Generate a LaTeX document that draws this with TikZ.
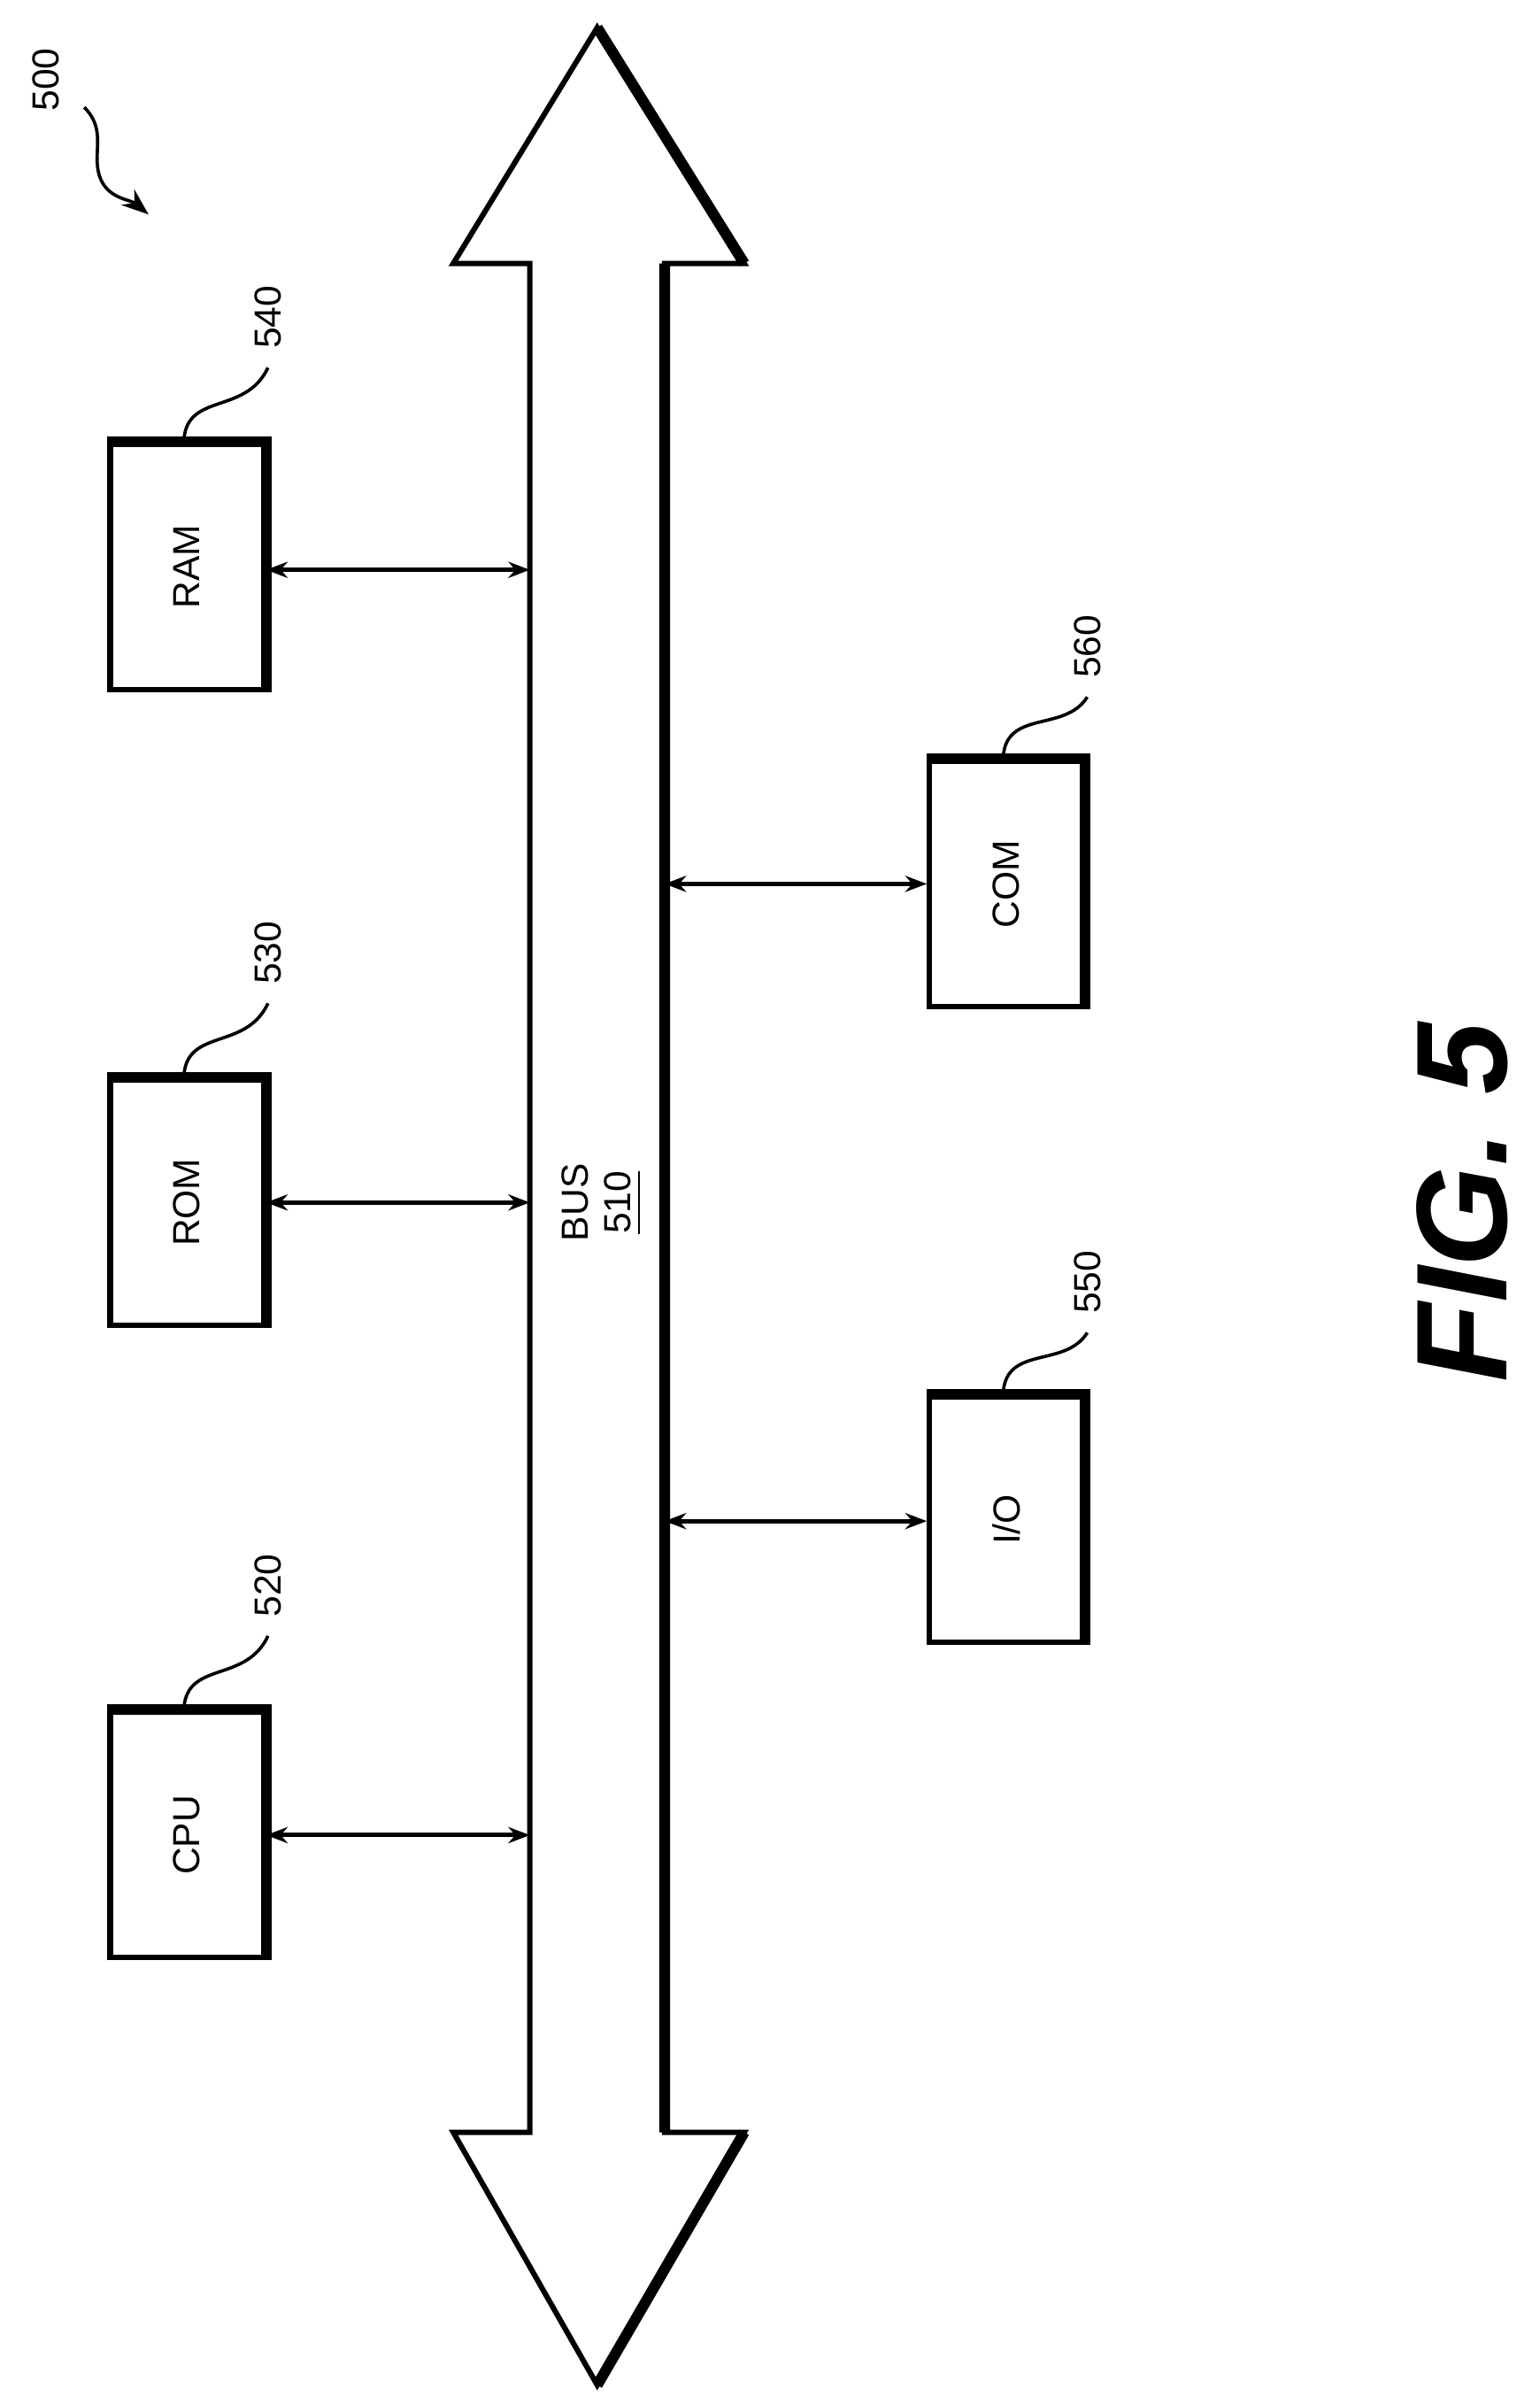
\documentclass[tikz,border=0pt]{standalone}
\usepackage{fontspec}
\setmainfont{Liberation Sans}
\usetikzlibrary{arrows.meta,decorations.pathmorphing}
\tikzset{
  blk/.style={draw, line width=1pt, minimum width=1.6cm, minimum height=1cm, rotate=90, font=\fontsize{7}{8}\selectfont},
  lnk/.style={{Stealth[length=4pt]}-{Stealth[length=4pt]}, line width=0.8pt},
  lead/.style={line width=0.6pt},
  ref/.style={rotate=90, font=\fontsize{7}{8}\selectfont, anchor=west}
}
\begin{document}
\begin{tikzpicture}[x=0.01cm,y=-0.01cm]
\useasboundingbox (0,0) rectangle (1000,1572);
% bus
\draw[line width=1pt] (390,18) -- (486,172) -- (434,172) -- (434,1392) -- (486,1392)
  -- (390,1557) -- (296,1392) -- (346,1392) -- (346,172) -- (296,172) -- cycle;
\draw[line width=2pt] (390,18) -- (486,172) (434,172) -- (434,1392) (486,1392) -- (390,1557);
\node[rotate=90, font=\fontsize{7}{8}\selectfont, align=center] (bus) at (393,785) {BUS\\\underline{510}};
% boxes
\node[blk] (ram) at (122,370) {RAM};
\node[blk] (rom) at (122,785) {ROM};
\node[blk] (cpu) at (122,1198) {CPU};
\node[blk] (com) at (657,577) {COM};
\node[blk] (io) at (657,992) {I/O};
\foreach \b in {ram,rom,cpu,com,io}{
  \draw[line width=2pt] (\b.north east) -- (\b.south east) -- (\b.south west);
}
% links
\coordinate (bl1) at (346,372);
\coordinate (bl2) at (346,785);
\coordinate (bl3) at (346,1198);
\coordinate (br1) at (434,577);
\coordinate (br2) at (434,993);
\draw[lnk] (ram.south |- bl1) -- (bl1);
\draw[lnk] (rom.south |- bl2) -- (bl2);
\draw[lnk] (cpu.south |- bl3) -- (bl3);
\draw[lnk] (br1) -- (com.north |- br1);
\draw[lnk] (br2) -- (io.north |- br2);
% reference numerals
\node[ref] (n540) at (175,240) {540};
\node[ref] (n530) at (175,655) {530};
\node[ref] (n520) at (175,1068) {520};
\node[ref] (n560) at (710,455) {560};
\node[ref] (n550) at (710,870) {550};
\draw[lead] (120,290) .. controls (120,255) and (160,272) .. (n540.west);
\draw[lead] (120,705) .. controls (120,670) and (160,687) .. (n530.west);
\draw[lead] (120,1118) .. controls (120,1083) and (160,1100) .. (n520.west);
\draw[lead] (655,497) .. controls (655,462) and (695,479) .. (n560.west);
\draw[lead] (655,912) .. controls (655,877) and (695,894) .. (n550.west);
\node[ref] (n500) at (30,85) {500};
\coordinate (s500) at (55,70);
\draw[lead, -{Stealth[length=5pt]}] (s500) .. controls (70,85) and (60,100) .. (65,115)
  .. controls (70,130) and (85,130) .. (97,140);
% figure label
\node[rotate=90, font=\fontsize{24}{26}\selectfont\bfseries\itshape] (fig) at (955,785) {FIG. 5};
\end{tikzpicture}
\end{document}
